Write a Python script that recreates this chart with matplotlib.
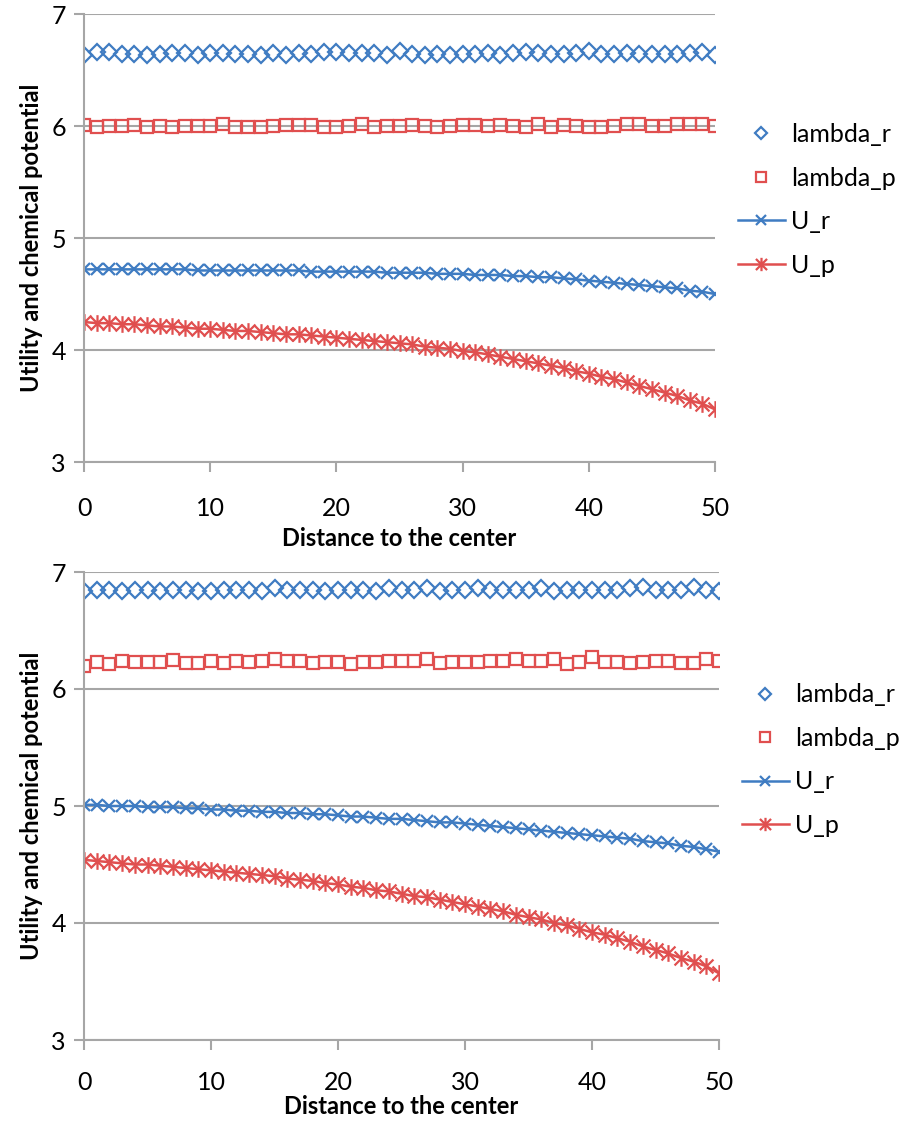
#!/usr/bin/env python3

import matplotlib
matplotlib.use("Agg")
import matplotlib.pyplot as plt
from matplotlib.path import Path

plt.rcParams["font.family"] = ["Lato", "DejaVu Sans"]

blue = "#3f7cc2"
red = "#e04f4f"
gridcolor = "#a6a6a6"

distance = list(range(51))

# top panel
top_lambda_r = [6.63, 6.66, 6.66, 6.64, 6.64, 6.63, 6.64, 6.65, 6.65, 6.63,
                6.65, 6.65, 6.64, 6.64, 6.63, 6.65, 6.63, 6.65, 6.64, 6.66,
                6.66, 6.65, 6.65, 6.65, 6.63, 6.67, 6.64, 6.63, 6.64, 6.63,
                6.64, 6.64, 6.65, 6.63, 6.65, 6.66, 6.65, 6.64, 6.64, 6.65,
                6.67, 6.64, 6.64, 6.65, 6.64, 6.64, 6.64, 6.64, 6.65, 6.66,
                6.63]
top_lambda_p = [6.01, 5.99, 6.00, 6.00, 6.01, 5.99, 6.00, 5.99, 6.00, 6.00,
                6.00, 6.02, 5.99, 5.99, 5.99, 6.00, 6.01, 6.01, 6.01, 5.99,
                5.99, 6.00, 6.02, 5.99, 6.00, 6.00, 6.01, 6.00, 5.99, 6.00,
                6.01, 6.01, 6.00, 6.01, 6.00, 5.99, 6.02, 5.99, 6.01, 6.00,
                5.99, 5.99, 6.00, 6.02, 6.02, 6.00, 6.00, 6.02, 6.02, 6.02,
                6.00]
top_u_r = [4.72, 4.72, 4.72, 4.72, 4.72, 4.72, 4.72, 4.72, 4.72, 4.71,
           4.71, 4.71, 4.71, 4.71, 4.71, 4.71, 4.71, 4.71, 4.70, 4.70,
           4.70, 4.70, 4.70, 4.70, 4.69, 4.69, 4.69, 4.69, 4.68, 4.68,
           4.68, 4.67, 4.67, 4.67, 4.66, 4.66, 4.65, 4.65, 4.64, 4.63,
           4.62, 4.61, 4.60, 4.59, 4.58, 4.57, 4.56, 4.55, 4.53, 4.52,
           4.50]
top_u_p = [4.25, 4.24, 4.24, 4.23, 4.23, 4.22, 4.21, 4.21, 4.20, 4.19,
           4.19, 4.18, 4.17, 4.17, 4.16, 4.15, 4.14, 4.14, 4.13, 4.12,
           4.11, 4.10, 4.09, 4.08, 4.07, 4.06, 4.05, 4.03, 4.02, 4.01,
           3.99, 3.98, 3.96, 3.94, 3.92, 3.90, 3.88, 3.86, 3.84, 3.81,
           3.79, 3.76, 3.74, 3.71, 3.68, 3.65, 3.62, 3.59, 3.55, 3.52,
           3.47]

# bottom panel
bot_lambda_r = [6.84, 6.85, 6.85, 6.84, 6.85, 6.85, 6.84, 6.85, 6.85, 6.84,
                6.84, 6.85, 6.85, 6.85, 6.84, 6.86, 6.85, 6.85, 6.85, 6.84,
                6.85, 6.85, 6.85, 6.84, 6.86, 6.85, 6.85, 6.86, 6.84, 6.85,
                6.85, 6.86, 6.85, 6.85, 6.85, 6.85, 6.86, 6.84, 6.85, 6.85,
                6.85, 6.85, 6.85, 6.86, 6.87, 6.85, 6.85, 6.85, 6.87, 6.85,
                6.84]
bot_lambda_p = [6.20, 6.23, 6.21, 6.24, 6.23, 6.23, 6.23, 6.25, 6.22, 6.22,
                6.24, 6.22, 6.24, 6.23, 6.24, 6.26, 6.24, 6.24, 6.22, 6.23,
                6.23, 6.21, 6.23, 6.23, 6.24, 6.24, 6.24, 6.26, 6.22, 6.23,
                6.23, 6.23, 6.24, 6.24, 6.26, 6.24, 6.24, 6.26, 6.21, 6.23,
                6.27, 6.23, 6.23, 6.22, 6.23, 6.24, 6.24, 6.22, 6.22, 6.26,
                6.24]
bot_u_r = [5.01, 5.01, 5.00, 5.00, 5.00, 4.99, 4.99, 4.99, 4.98, 4.98,
           4.97, 4.97, 4.96, 4.96, 4.95, 4.95, 4.94, 4.94, 4.93, 4.93,
           4.92, 4.91, 4.91, 4.90, 4.89, 4.89, 4.88, 4.87, 4.86, 4.86,
           4.85, 4.84, 4.83, 4.82, 4.81, 4.80, 4.79, 4.78, 4.77, 4.76,
           4.75, 4.74, 4.73, 4.72, 4.70, 4.69, 4.68, 4.66, 4.65, 4.63,
           4.61]
bot_u_p = [4.54, 4.53, 4.52, 4.51, 4.50, 4.50, 4.49, 4.48, 4.47, 4.46,
           4.45, 4.44, 4.43, 4.42, 4.41, 4.40, 4.38, 4.37, 4.36, 4.34,
           4.33, 4.31, 4.30, 4.28, 4.27, 4.25, 4.23, 4.22, 4.20, 4.18,
           4.16, 4.14, 4.12, 4.10, 4.07, 4.05, 4.03, 4.00, 3.98, 3.95,
           3.92, 3.90, 3.87, 3.84, 3.80, 3.77, 3.74, 3.70, 3.67, 3.63,
           3.57]

# excel style star: an x with a vertical bar through it
star = Path([(-0.5, -0.5), (0.5, 0.5), (-0.5, 0.5), (0.5, -0.5), (0, -0.6), (0, 0.6)],
            [Path.MOVETO, Path.LINETO, Path.MOVETO, Path.LINETO, Path.MOVETO, Path.LINETO])


def draw(ax, lr, lp, ur, up, legend_y, xpad, xlabelpad):
    ax.plot(distance, lr, linestyle="none", marker="D", markersize=8,
            markerfacecolor="none", markeredgecolor=blue, markeredgewidth=1.6,
            label="lambda_r")
    ax.plot(distance, lp, linestyle="none", marker="s", markersize=8.5,
            markerfacecolor="none", markeredgecolor=red, markeredgewidth=1.6,
            label="lambda_p")
    ax.plot(distance, ur, color=blue, linewidth=1.8, marker="x", markersize=9,
            markeredgewidth=1.6, label="U_r")
    ax.plot(distance, up, color=red, linewidth=1.8, marker=star, markersize=12,
            markeredgewidth=1.6, label="U_p")

    ax.set_xlim(0, 50)
    ax.set_ylim(3, 7)
    ax.set_xticks([0, 10, 20, 30, 40, 50])
    ax.set_yticks([3, 4, 5, 6, 7])
    ax.tick_params(labelsize=18, color=gridcolor, width=1.5, length=7,
                   direction="out", pad=6)
    ax.tick_params(axis="x", pad=xpad)

    ax.grid(True, axis="y", color=gridcolor, linewidth=1.5)
    ax.set_axisbelow(True)
    for s in ["top", "right"]:
        ax.spines[s].set_visible(False)
    for s in ["left", "bottom"]:
        ax.spines[s].set_color(gridcolor)
        ax.spines[s].set_linewidth(1.5)

    ax.set_ylabel("Utility and chemical potential", fontsize=17,
                  fontweight="bold", labelpad=6)
    ax.set_xlabel("Distance to the center", fontsize=17, fontweight="bold",
                  labelpad=xlabelpad)

    ax.legend(loc="center left", bbox_to_anchor=(1.02, legend_y), frameon=False,
              fontsize=18, handlelength=1.9, handletextpad=0.25,
              labelspacing=0.82, markerscale=0.8, borderaxespad=0)


def main():
    fig = plt.figure(figsize=(9.07, 11.24), dpi=100)
    ax1 = fig.add_axes([84 / 907, 1 - 462 / 1124, 631 / 907, 448 / 1124])
    ax2 = fig.add_axes([84 / 907, 1 - 1040 / 1124, 635 / 907, 468 / 1124])

    draw(ax1, top_lambda_r, top_lambda_p, top_u_r, top_u_p, 0.585, 18, 5)
    draw(ax2, bot_lambda_r, bot_lambda_p, bot_u_r, bot_u_p, 0.598, 15, 1)

    plt.savefig("out.png", dpi=100)


if __name__ == "__main__":
    main()
